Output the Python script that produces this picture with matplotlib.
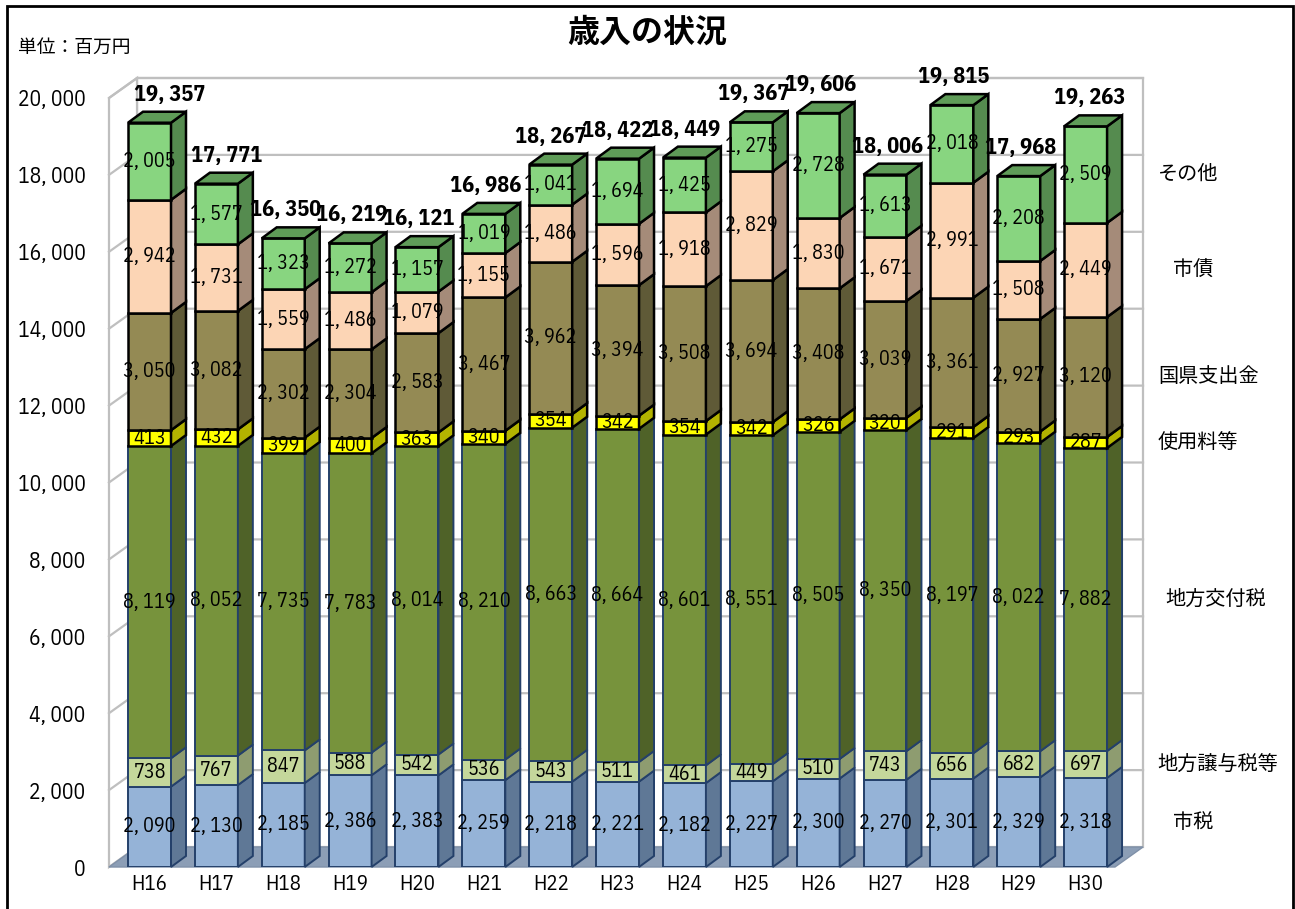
import matplotlib
matplotlib.use("Agg")
import matplotlib.pyplot as plt
from matplotlib.patches import Polygon, Rectangle

# ---- data (百万円) ----
years = ["H16", "H17", "H18", "H19", "H20", "H21", "H22", "H23",
         "H24", "H25", "H26", "H27", "H28", "H29", "H30"]
series_names = ["市税", "地方譲与税等", "地方交付税", "使用料等", "国県支出金", "市債", "その他"]
city_tax = [2090, 2130, 2185, 2386, 2383, 2259, 2218, 2221, 2182, 2227, 2300, 2270, 2301, 2329, 2318]
transfer_tax = [738, 767, 847, 588, 542, 536, 543, 511, 461, 449, 510, 743, 656, 682, 697]
local_alloc_tax = [8119, 8052, 7735, 7783, 8014, 8210, 8663, 8664, 8601, 8551, 8505, 8350, 8197, 8022, 7882]
fees = [413, 432, 399, 400, 363, 340, 354, 342, 354, 342, 326, 320, 291, 293, 287]
subsidies = [3050, 3082, 2302, 2304, 2583, 3467, 3962, 3394, 3508, 3694, 3408, 3039, 3361, 2927, 3120]
city_bonds = [2942, 1731, 1559, 1486, 1079, 1155, 1486, 1596, 1918, 2829, 1830, 1671, 2991, 1508, 2449]
others = [2005, 1577, 1323, 1272, 1157, 1019, 1041, 1694, 1425, 1275, 2728, 1613, 2018, 2208, 2509]
totals = [19357, 17771, 16350, 16219, 16121, 16986, 18267, 18422, 18449, 19367, 19606, 18006, 19815, 17968, 19263]
series_values = [city_tax, transfer_tax, local_alloc_tax, fees, subsidies, city_bonds, others]

# ---- styles ----
front_colors = ["#95b3d7", "#c4d79b", "#77933c", "#ffff00", "#948a54", "#fcd5b5", "#88d580"]
side_colors = ["#5f7896", "#8e9c70", "#4f6228", "#b3b300", "#5f5a37", "#a58b79", "#558b4f"]
edge_colors = ["#24406a", "#24406a", "#24406a", "black", "black", "black", "black"]
edge_widths = [1.4, 1.4, 1.4, 1.8, 1.8, 1.8, 1.8]
top_color = "#5f9c58"
legend_x = [15.30, 15.08, 15.19, 15.08, 15.08, 15.30, 15.08]
total_dx = [0.30, 0.16, 0.03, 0.03, 0.03, 0.03, 0.0, 0.0, 0.0, 0.03, 0.03, 0.03, 0.03, 0.03, 0.06]

JP = ["Noto Sans CJK JP", "DejaVu Sans"]
NUM = ["IBM Plex Sans Condensed", "Noto Sans CJK JP", "DejaVu Sans"]


def fmt(v):
    return f"{v:,}".replace(",", ", ")


fig = plt.figure(figsize=(12.95, 9.09), dpi=100)
ax = fig.add_axes([109 / 1295, 42 / 909, 1006 / 1295, 769 / 909])
x0, x1 = -0.606, 14.44
ax.set_xlim(x0, x1)
ax.set_ylim(0, 20000)
ax.set_facecolor("none")
for s in ax.spines.values():
    s.set_visible(False)

# 3D depth of walls and bars (data units)
wdx, wdy = 0.419, 520
bw, bdx, bdy = 0.643, 0.224, 286

# back wall, side wall and floor
grid_c = "#bfbfbf"
ax.add_patch(Polygon([(x0 + wdx, wdy), (x1 + wdx, wdy), (x1 + wdx, 20000 + wdy), (x0 + wdx, 20000 + wdy)],
                     closed=True, facecolor="white", edgecolor=grid_c, lw=1.6, clip_on=False, zorder=0))
ax.add_patch(Polygon([(x0, 0), (x0 + wdx, wdy), (x0 + wdx, 20000 + wdy), (x0, 20000)],
                     closed=True, facecolor="white", edgecolor=grid_c, lw=1.6, clip_on=False, zorder=0))
for v in range(2000, 20001, 2000):
    ax.plot([x0, x0 + wdx, x1 + wdx], [v, v + wdy, v + wdy], color=grid_c, lw=1.6,
            clip_on=False, zorder=0.5)
ax.add_patch(Polygon([(x0, 0), (x1, 0), (x1 + wdx, wdy), (x0 + wdx, wdy)],
                     closed=True, facecolor="#8c9eb6", edgecolor="#7f90a8", lw=1, clip_on=False, zorder=0.6))

# stacked 3D bars
xs = list(range(len(years)))
bottoms = [0] * len(years)
for k, vals in enumerate(series_values):
    bars = ax.bar(xs, vals, width=bw, bottom=bottoms, color=front_colors[k],
                  edgecolor=edge_colors[k], linewidth=edge_widths[k], zorder=2)
    for i, (b, v) in enumerate(zip(bottoms, vals)):
        xr = i + bw / 2
        top = b + v
        ax.add_patch(Polygon([(xr, b), (xr + bdx, b + bdy), (xr + bdx, top + bdy), (xr, top)],
                             closed=True, facecolor=side_colors[k], edgecolor=edge_colors[k],
                             lw=edge_widths[k], zorder=2, clip_on=False))
        if k == len(series_values) - 1:
            xl = i - bw / 2
            ax.add_patch(Polygon([(xl, top), (xr, top), (xr + bdx, top + bdy), (xl + bdx, top + bdy)],
                                 closed=True, facecolor=top_color, edgecolor="black",
                                 lw=edge_widths[k], zorder=2, clip_on=False))
        t = ax.text(i, b + v / 2, fmt(v), ha="center", va="center", fontsize=14.5,
                    family=NUM, color="black", zorder=3)
        t.set_clip_path(bars.patches[i])
    bottoms = [b + v for b, v in zip(bottoms, vals)]

# totals above each bar
for i, tot in enumerate(totals):
    ax.annotate(fmt(tot), (i + total_dx[i], tot + bdy), xytext=(0, 5), textcoords="offset points",
                ha="center", va="bottom", fontsize=16, fontweight="bold", family=NUM,
                annotation_clip=False, zorder=4)

# series names beside the last bar
last = len(years) - 1
base = 0
for k, vals in enumerate(series_values):
    ax.text(legend_x[k], base + vals[last] / 2, series_names[k], ha="left", va="center",
            fontsize=14.5, family=JP, clip_on=False)
    base += vals[last]

# axes ticks
ax.set_xticks(xs)
ax.set_xticklabels(years, family=NUM, fontsize=15)
yt = list(range(0, 20001, 2000))
ax.set_yticks(yt)
ax.set_yticklabels([fmt(v) for v in yt], family=NUM, fontsize=15.5)
ax.tick_params(axis="y", length=0, pad=17)
ax.tick_params(axis="x", length=0, pad=6)

# titles and frame
fig.text(0.5, 1 - 33 / 909, "歳入の状況", ha="center", va="center", fontsize=23,
         fontweight="bold", family=JP)
fig.text(18 / 1295, 1 - 47 / 909, "単位：百万円", ha="left", va="center", fontsize=13.5, family=JP)
fig.patches.append(Rectangle((7 / 1295, -0.02), 1286 / 1295, 1.02 - 6 / 909,
                             transform=fig.transFigure, fill=False, edgecolor="black", lw=2))

fig.savefig("out.png", dpi=100)
